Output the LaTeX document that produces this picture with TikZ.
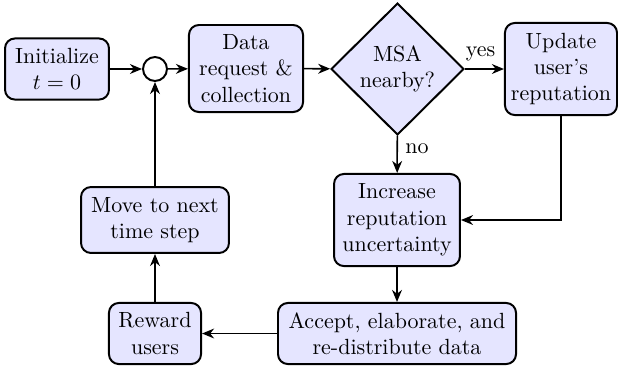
\documentclass[tikz,border=0pt]{standalone}
\usetikzlibrary{shapes.geometric,arrows.meta}

\tikzset{
  txt/.style={font=\fontsize{10}{12}\selectfont},
  box/.style={txt, draw, line width=0.9pt, rounded corners=4.5pt, fill=blue!10,
    align=center, inner sep=0pt},
  decision/.style={txt, draw, line width=0.9pt, diamond, fill=blue!10,
    align=center, inner sep=0pt},
  junction/.style={draw, line width=0.9pt, circle, fill=white,
    minimum size=10.9pt, inner sep=0pt},
  flow/.style={line width=0.7pt, -{Stealth[length=5.5pt,width=4.5pt]}}
}

\begin{document}
\begin{tikzpicture}[x=0.455pt, y=-0.455pt]
  \useasboundingbox (0,0) rectangle (618,371);

  % process boxes
  \node[box, minimum width=47.3pt, minimum height=27.8pt] (init) at (57,69)
    {Initialize\\$t=0$};
  \node[junction] (circ) at (155,69) {};
  \node[box, minimum width=51.9pt, minimum height=39.6pt] (data) at (246,68.5)
    {Data\\request \&\\collection};
  \node[decision, minimum width=60.5pt, minimum height=60pt] (msa) at (397.5,69)
    {MSA\\nearby?};
  \node[box, minimum width=51pt, minimum height=41.9pt] (upd) at (561,69)
    {Update\\user's\\reputation};
  \node[box, minimum width=57.3pt, minimum height=41.9pt] (inc) at (397,220)
    {Increase\\reputation\\uncertainty};
  \node[box, minimum width=108.3pt, minimum height=27.8pt] (acc) at (397,333.5)
    {Accept, elaborate, and\\re-distribute data};
  \node[box, minimum width=41.9pt, minimum height=27.8pt] (rew) at (155,333.5)
    {Reward\\users};
  \node[box, minimum width=67.3pt, minimum height=30pt] (move) at (155,220)
    {Move to next\\time step};

  % connectors
  \draw[flow] (init) -- (circ);
  \draw[flow] (circ) -- (data);
  \draw[flow] (data) -- (msa);
  \draw[flow] (msa) -- node[txt, above, pos=0.4] {yes} (upd);
  \draw[flow] (msa) -- node[txt, right, pos=0.35] {no} (inc);
  \draw[flow] (upd.south) |- (inc.east);
  \draw[flow] (inc) -- (acc);
  \draw[flow] (acc) -- (rew);
  \draw[flow] (rew) -- (move);
  \draw[flow] (move) -- (circ);
\end{tikzpicture}
\end{document}
